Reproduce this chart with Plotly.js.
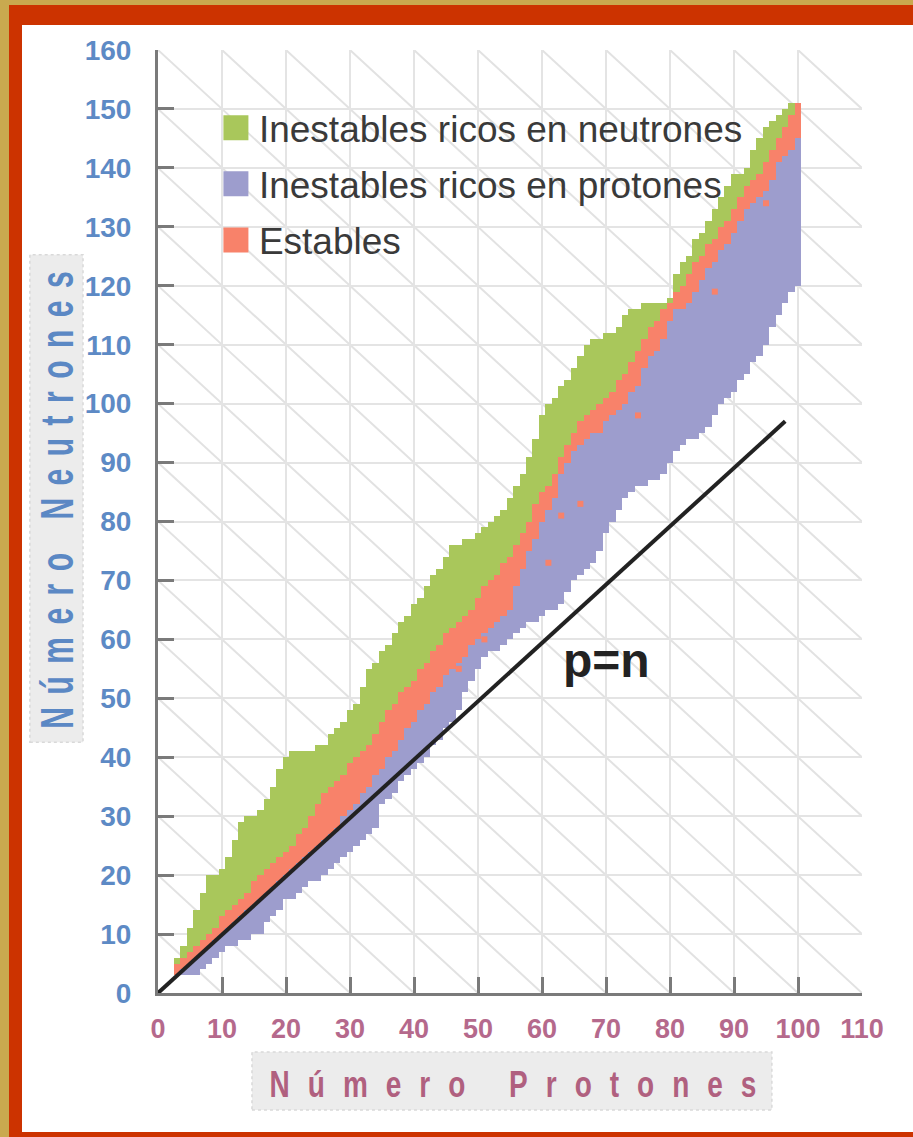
<!DOCTYPE html>
<html><head><meta charset="utf-8">
<script src="https://cdn.plot.ly/plotly-3.0.1.min.js"></script>
<style>
html,body{margin:0;padding:0;width:913px;height:1137px;overflow:hidden;background:#c9a94f;}
#frame{position:absolute;left:9px;top:5px;width:904px;height:1132px;background:#cc3300;}
#inner{position:absolute;left:22px;top:25px;width:891px;height:1107px;background:#ffffff;}
#chart{position:absolute;left:0;top:0;width:913px;height:1137px;}
text.xtitle{letter-spacing:18px;}
text.ytitle{letter-spacing:12.5px;}
</style></head><body>
<div id="frame"></div><div id="inner"></div><div id="chart"></div>
<script>
// Proton number Z for each column of the chart
const protons = [3,4,5,6,7,8,9,10,11,12,13,14,15,16,17,18,19,20,21,22,23,24,25,26,27,28,29,30,
  31,32,33,34,35,36,37,38,39,40,41,42,43,44,45,46,47,48,49,50,51,52,53,54,55,56,57,58,59,60,
  61,62,63,64,65,66,67,68,69,70,71,72,73,74,75,76,77,78,79,80,81,82,83,84,85,86,87,88,89,90,
  91,92,93,94,95,96,97,98,99,100];
// Lower edge (neutron number) of the proton-rich unstable region
const blueLow = [3,3,3,3,4,5,6,7,8,8,9,9,10,10,12,13,14,16,16,17,18,19,19,20,21,22,23,24,
  25,26,27,28,32,33,34,36,37,38,39,40,42,43,45,46,48,51,53,55,57,58,58,59,60,61,62,63,63,64,
  65,65,66,68,70,71,72,73,75,78,80,82,84,85,86,86,87,87,88,90,92,93,94,94,95,96,98,100,101,102,
  104,105,107,108,110,113,115,117,119,120];
// Lower and upper edges of the stable band
const stableLow = [3,4,5,6,7,8,9,10,11,12,13,14,15,16,17,18,19,20,21,22,23,24,25,26,27,28,30,31,
  32,34,35,37,38,40,41,43,45,46,48,49,51,52,54,55,56,57,59,60,61,62,63,64,65,69,72,75,77,80,
  82,84,88,90,92,93,94,95,95,97,98,99,100,102,103,106,108,109,111,114,116,116,117,119,121,123,124,126,127,129,
  131,133,134,135,136,138,141,142,143,145];
const stableHigh = [5,6,7,8,9,10,11,13,14,15,16,17,19,20,21,22,23,24,25,27,28,30,32,34,35,36,37,39,
  40,41,42,44,46,48,49,51,52,53,55,56,58,59,61,62,63,64,65,67,69,70,71,73,74,76,78,80,83,85,
  86,88,91,93,95,97,98,99,100,101,102,104,105,107,109,111,113,114,116,117,119,120,122,124,125,127,128,130,131,133,
  135,137,138,139,141,143,145,147,149,151];
// Upper edge of the neutron-rich unstable region
const neutronHigh = [6,8,11,14,17,20,20,21,23,26,29,30,30,31,33,35,38,40,41,41,41,41,42,42,44,45,46,48,
  49,52,55,56,58,59,61,63,64,66,67,69,71,72,74,76,76,77,77,78,79,80,81,82,84,86,88,91,94,98,
  100,101,103,104,106,108,110,111,111,112,112,113,115,116,116,117,117,117,117,118,122,124,125,128,129,131,133,135,137,139,
  139,140,143,145,147,148,149,150,151,151];
// Isolated stable nuclides inside the proton-rich region
const isoZ = [47,51,61,63,66,75,87,95];
const isoN = [55,60,73,81,83,98,119,134];
// p = n reference line
const pnZ = [0,98];
const pnN = [0,97];
// Isobar guide lines (Z + N = A)
const isobars = [10,20,30,40,50,60,70,80,90,100,110,120,130,140,150,160,170,180,190,200,210,220,230,240,250,260,270];
// Tick labels
const xTicks = [0,10,20,30,40,50,60,70,80,90,100,110];
const yTicks = [0,10,20,30,40,50,60,70,80,90,100,110,120,130,140,150,160];
const seriesNames = ['Inestables ricos en neutrones','Inestables ricos en protones','Estables'];

const ZMAX = 110, NMAX = 160;
const isoShapes = isobars.map(A => {
  const z0 = Math.max(0, A - NMAX), z1 = Math.min(ZMAX, A);
  return {type:'line', xref:'x', yref:'y', x0:z0, y0:A - z0, x1:z1, y1:A - z1,
          line:{color:'#e2e2e2', width:2}, layer:'below'};
});
const diff = (hi, lo) => hi.map((v, i) => v - lo[i]);

const cGreen = '#a9c75b', cBlue = '#9d9dcd', cRed = '#f8826a';
const data = [
  {type:'bar', name:seriesNames[0], legendgroup:'g1', x:protons, y:diff(neutronHigh, stableHigh), base:stableHigh,
   width:1, marker:{color:cGreen, line:{width:0}}, hoverinfo:'skip'},
  {type:'bar', name:seriesNames[1], legendgroup:'g2', x:protons, y:diff(stableLow, blueLow), base:blueLow,
   width:1, marker:{color:cBlue, line:{width:0}}, hoverinfo:'skip'},
  {type:'bar', name:seriesNames[2], legendgroup:'g3', x:protons, y:diff(stableHigh, stableLow), base:stableLow,
   width:1, marker:{color:cRed, line:{width:0}}, hoverinfo:'skip'},
  {type:'scatter', mode:'markers', legendgroup:'g3', showlegend:false, x:isoZ, y:isoN,
   marker:{symbol:'square', size:6, color:cRed}, hoverinfo:'skip'},
  {type:'scatter', mode:'lines', x:pnZ, y:pnN, line:{color:'#222222', width:4},
   showlegend:false, hoverinfo:'skip'}
];

const fontFamily = '"Liberation Sans", Arial, sans-serif';
const layout = {
  width:913, height:1137,
  margin:{l:158, r:51, t:50, b:144, pad:0},
  paper_bgcolor:'rgba(0,0,0,0)', plot_bgcolor:'#ffffff',
  barmode:'overlay', bargap:0,
  showlegend:true,
  legend:{x:0.078, y:0.95, xanchor:'left', yanchor:'top', bgcolor:'rgba(0,0,0,0)', itemwidth:36,
    font:{family:fontFamily, size:37, color:'#3a3a3a'}, tracegroupgap:5, traceorder:'grouped'},
  xaxis:{range:[0,110], tickvals:xTicks, ticktext:xTicks.map(String), showgrid:true, gridcolor:'#e4e4e4', gridwidth:2,
    zeroline:false, showline:true, linecolor:'#7a7a7a', linewidth:3,
    ticks:'inside', ticklen:16, tickwidth:3, tickcolor:'#7a7a7a', ticklabelstandoff:10,
    tickfont:{family:fontFamily, size:27, color:'#b5698c', weight:'bold'},
    title:{text:'Número Protones', standoff:22,
      font:{family:fontFamily, size:28, color:'#b0607f', weight:'bold'}}},
  yaxis:{range:[0,160], tickvals:yTicks, ticktext:yTicks.map(String), showgrid:true, gridcolor:'#e4e4e4', gridwidth:2,
    zeroline:false, showline:true, linecolor:'#7a7a7a', linewidth:3,
    ticks:'inside', ticklen:16, tickwidth:3, tickcolor:'#7a7a7a', ticklabelstandoff:18,
    tickfont:{family:fontFamily, size:28, color:'#5d8ac5', weight:'bold'},
    title:{text:'Número Neutrones', standoff:12,
      font:{family:fontFamily, size:30, color:'#5b88c4', weight:'bold'}}},
  yaxis2:{overlaying:'y', side:'right', range:[0,160], showgrid:false, zeroline:false,
    showline:true, linecolor:'#333333', linewidth:3, showticklabels:false, ticks:''},
  shapes:[
    {type:'rect', xref:'paper', yref:'paper', x0:0.1335, x1:0.872, y0:-0.124, y1:-0.0626,
     fillcolor:'#ececec', line:{color:'#d9d9d9', width:1.5, dash:'dot'}, layer:'below'},
    {type:'rect', xref:'paper', yref:'paper', x0:-0.182, x1:-0.1065, y0:0.266, y1:0.783,
     fillcolor:'#ececec', line:{color:'#d9d9d9', width:1.5, dash:'dot'}, layer:'below'}
  ].concat(isoShapes),
  annotations:[
    {x:70, y:56.5, xref:'x', yref:'y', text:'p=n', showarrow:false,
     font:{family:fontFamily, size:48, color:'#222222', weight:'bold'}}
  ]
};

function stretchTitle(el, k, place) {
  if (!el) return;
  const x = +el.getAttribute('x'), y = +el.getAttribute('y');
  const base = el.getAttribute('transform') || '';
  const scl = 'translate(' + x + ',' + y + ') scale(1,' + k + ') translate(' + (-x) + ',' + (-y) + ')';
  el.setAttribute('transform', base + ' ' + scl);
  const r = el.getBoundingClientRect();
  const d = place(r);
  el.setAttribute('transform', 'translate(' + d[0] + ',' + d[1] + ') ' + base + ' ' + scl);
}

Plotly.newPlot('chart', data, layout, {staticPlot:true}).then(gd => {
  gd.querySelectorAll('.legend .legendpoints path').forEach(p => p.setAttribute('d','M12.5,12.5H-12.5V-12.5H12.5Z'));
  // condensed, letter-spaced axis titles as in the original artwork
  stretchTitle(gd.querySelector('text.xtitle'), 1.35, r => {
    const cx = (r.left + r.right - 18) / 2;
    return [513 - cx, 1105 - r.bottom];
  });
  stretchTitle(gd.querySelector('text.ytitle'), 1.55, r => {
    const cy = (r.top + 12.5 + r.bottom) / 2;
    return [83 - r.right, 500 - cy];
  });
});
</script>
</body></html>
